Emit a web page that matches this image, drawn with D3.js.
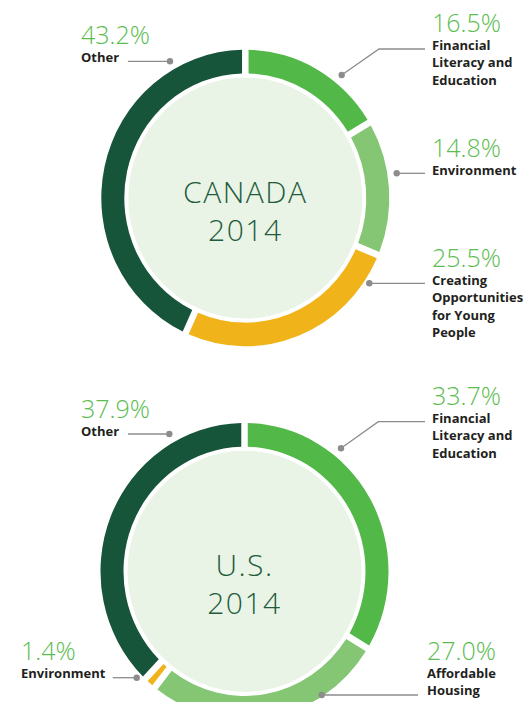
<!DOCTYPE html>
<!-- two donut charts: community giving by cause, Canada and U.S., 2014 -->
<html>
<head>
<meta charset="utf-8">
<style>
  body { margin: 0; background: #fff; }
  svg text { font-family: "Open Sans", "DejaVu Sans", sans-serif; }
</style>
</head>
<body>
<div id="chart_div"></div>

<script src="https://d3js.org/d3.v7.min.js"></script>

<script>

// data
let canada_categories = ["Financial Literacy and Education", "Environment", "Creating Opportunities for Young People", "Other"];
let canada_values = [16.5, 14.8, 25.5, 43.2];
let canada_label_lines = [["Financial", "Literacy and", "Education"], ["Environment"], ["Creating", "Opportunities", "for Young", "People"], ["Other"]];

let us_categories = ["Financial Literacy and Education", "Affordable Housing", "Environment", "Other"];
let us_values = [33.7, 27.0, 1.4, 37.9];
let us_label_lines = [["Financial", "Literacy and", "Education"], ["Affordable", "Housing"], ["Environment"], ["Other"]];

// layout of the charts and their callouts (pixels)
let width = 529, height = 702;
let outer_r = 144, inner_r = 121, core_r = 117, y_stretch = 1.03;

let canada_layout = {
  cx: 245.3, cy: 198, title: ["CANADA", "2014"],
  notes: [
    {x: 432, y: 32, pts: [[341.7, 75], [379, 49], [425, 49]]},
    {x: 432, y: 157, pts: [[396.7, 173.3], [425, 173.3]]},
    {x: 432, y: 267, pts: [[369.3, 283.3], [425, 283.3]]},
    {x: 81, y: 44, pts: [[170, 61.3], [128, 61.3]]}
  ]
};
let us_layout = {
  cx: 244.5, cy: 571.3, title: ["U.S.", "2014"],
  notes: [
    {x: 432, y: 405, pts: [[341, 448.3], [378.3, 421.7], [425, 421.7]]},
    {x: 427, y: 660, pts: [[321.7, 695], [418, 695]]},
    {x: 21, y: 660, pts: [[136.7, 677.7], [112.7, 677.7]]},
    {x: 81, y: 418, pts: [[169.3, 434], [128, 434]]}
  ]
};

let colour = d3.scaleOrdinal()
  .domain([0, 1, 2, 3])
  .range(["#52b848", "#84c673", "#f0b31a", "#17553a"]);

let svg = d3.select("#chart_div")
  .append("svg")
    .attr("width", width)
    .attr("height", height);

let pie = d3.pie().sort(null).value(function(d) { return d; });
let arc = d3.arc()
  .innerRadius(inner_r)
  .outerRadius(outer_r)
  .padRadius(outer_r)
  .padAngle(6.5 / outer_r);

function draw_donut(values, label_lines, layout) {
  let g = svg.append("g")
    .attr("transform", "translate(" + layout.cx + "," + layout.cy + ") scale(1," + y_stretch + ")");

  // pale centre disc
  g.append("circle")
    .attr("r", core_r)
    .style("fill", "#e9f4e6");

  g.selectAll(".slice")
    .data(pie(values))
    .enter()
    .append("path")
      .attr("class", "slice")
      .attr("d", arc)
      .style("fill", function(d, i) { return colour(i); });

  // centre title
  let title = svg.append("g")
    .attr("transform", "translate(" + layout.cx + "," + layout.cy + ")");
  title.selectAll("text")
    .data(layout.title)
    .enter()
    .append("text")
      .attr("text-anchor", "middle")
      .attr("x", 0)
      .attr("y", function(d, i) { return 5 + i * 38; })
      .style("font-size", "30px")
      .style("font-weight", 300)
      .style("letter-spacing", "1.5px")
      .style("fill", "#1f5c3d")
      .text(function(d) { return d; });

  // callouts
  layout.notes.forEach(function(n, i) {
    svg.append("path")
      .attr("d", d3.line()(n.pts))
      .style("fill", "none")
      .style("stroke", "#8c8c8c")
      .style("stroke-width", 1.3);
    svg.append("circle")
      .attr("cx", n.pts[0][0])
      .attr("cy", n.pts[0][1])
      .attr("r", 3.2)
      .style("fill", "#8c8c8c");

    svg.append("text")
      .attr("x", n.x)
      .attr("y", n.y)
      .style("font-size", "25px")
      .style("font-weight", 300)
      .style("fill", "#5bbd4f")
      .text(d3.format(".1f")(values[i]) + "%");

    label_lines[i].forEach(function(line, j) {
      svg.append("text")
        .attr("x", n.x)
        .attr("y", n.y + 17.5 * (j + 1))
        .style("font-size", "13px")
        .style("font-weight", 700)
        .style("fill", "#231f20")
        .text(line);
    });
  });
}

draw_donut(canada_values, canada_label_lines, canada_layout);
draw_donut(us_values, us_label_lines, us_layout);

</script>
</body>
</html>
